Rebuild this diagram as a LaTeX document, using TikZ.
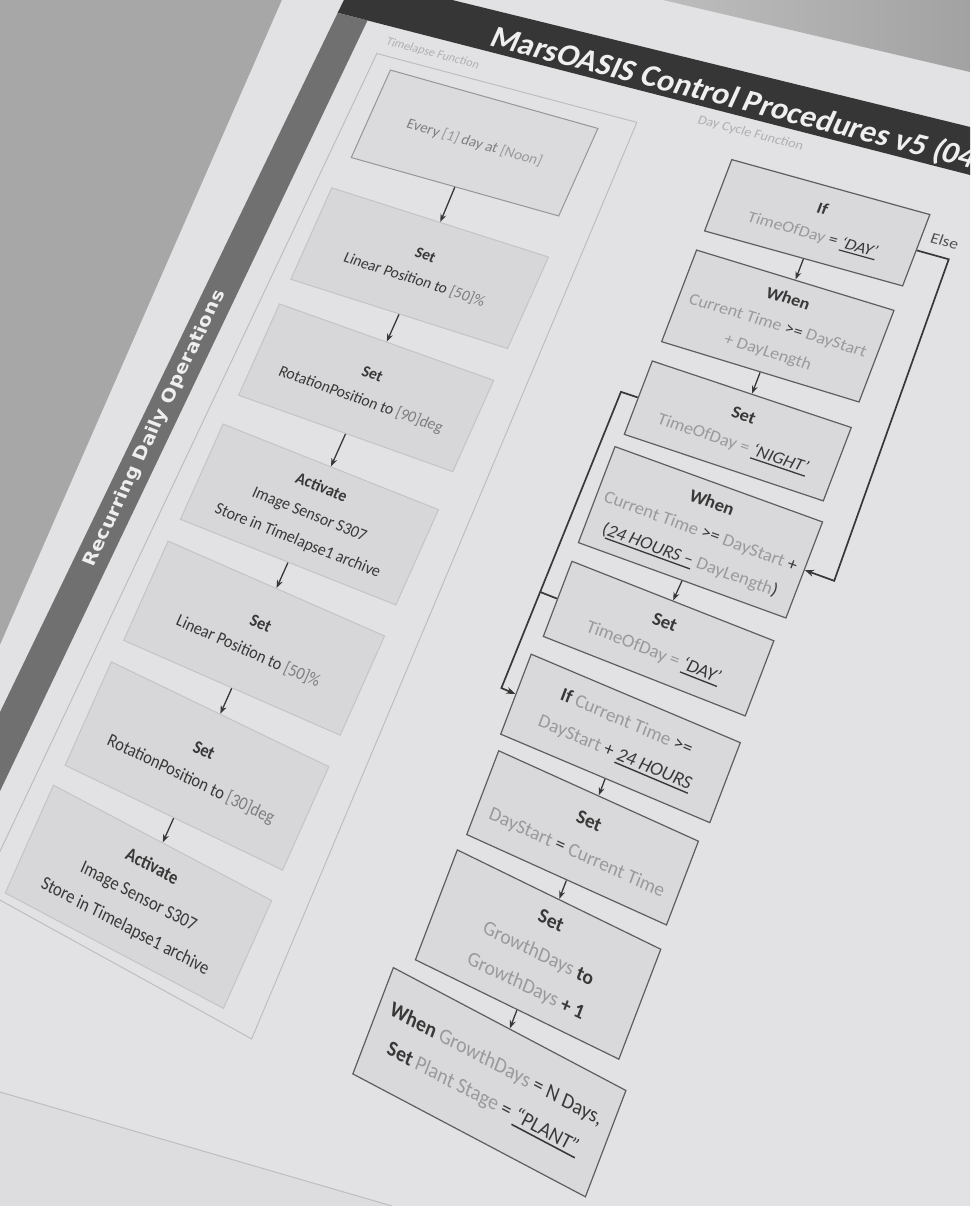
\documentclass[tikz,border=0pt]{standalone}
\usepackage{fontspec}
\setmainfont{Carlito}
\newfontfamily\bandfont{DejaVu Sans}
\usetikzlibrary{arrows.meta}

\definecolor{desk}{HTML}{A7A7A7}
\definecolor{deskhi}{HTML}{BDBDBD}
\definecolor{deskdk}{HTML}{A2A2A2}
\definecolor{paper}{HTML}{E2E2E4}
\definecolor{paperdk}{HTML}{DDDDDF}
\definecolor{titleband}{HTML}{363636}
\definecolor{sideband}{HTML}{707070}
\definecolor{frameline}{HTML}{BEBEC0}
\definecolor{lfill}{HTML}{D7D7D9}
\definecolor{lline}{HTML}{C4C4C6}
\definecolor{rfill}{HTML}{D9D9DB}
\definecolor{rline}{HTML}{5E5E5E}
\definecolor{ink}{HTML}{383838}
\definecolor{soft}{HTML}{9A9A9C}
\definecolor{mid}{HTML}{7E7E80}

% Sheet coordinates (u to the right, v downwards) -> photo coordinates,
% a plane perspective map; also gives the local linear part for nodes.
\newcommand\hmMap[2]{%
  \pgfmathsetmacro\hmW{1-(#1)/3925-(#2)/6183}%
  \pgfmathsetmacro\hmdX{(0.9625*(#1)-0.4079*(#2))/\hmW}%
  \pgfmathsetmacro\hmdY{(0.2713*(#1)+0.9130*(#2))/\hmW}%
  \pgfmathsetmacro\hmX{478+\hmdX}%
  \pgfmathsetmacro\hmY{-145-\hmdY}%
  \pgfmathsetmacro\hmA{(0.9625+\hmdX/3925)/\hmW}%
  \pgfmathsetmacro\hmB{-(0.2713+\hmdY/3925)/\hmW}%
  \pgfmathsetmacro\hmC{(0.4079-\hmdX/6183)/\hmW}%
  \pgfmathsetmacro\hmD{(0.9130+\hmdY/6183)/\hmW}%
}
\newcommand\hmCoord[3]{\hmMap{#2}{#3}\coordinate (#1) at (\hmX,\hmY);}
\newcommand\hmNode[5]{\hmMap{#3}{#4}%
  \node[cm={\hmA,\hmB,\hmC,\hmD,(0,0)},#1] (#2) at (\hmX,\hmY) {#5};}

\newcommand\sv[1]{\textcolor{soft}{#1}}
\newcommand\mv[1]{\textcolor{mid}{#1}}
\newsavebox\ulbox
\newcommand\uv[1]{\sbox\ulbox{\textit{#1}}%
  \rlap{\rule[-3.2pt]{\wd\ulbox}{1.1pt}}\usebox\ulbox}

\tikzset{
  lbox/.style={draw=lline, fill=lfill, line width=1pt, minimum width=220pt,
    minimum height=92pt, align=center, text=ink,
    font=\fontsize{15}{25.5}\selectfont},
  rbox/.style={draw=rline, fill=rfill, line width=1.2pt, minimum width=172pt,
    align=center, text=ink, font=\fontsize{15}{25.5}\selectfont},
  flow/.style={draw=ink, line width=1.3pt, -{Stealth[length=8pt,width=6pt]}},
  loopline/.style={draw=ink, line width=1.7pt, line join=miter},
  looparrow/.style={loopline, -{Stealth[length=9pt,width=7pt]}},
  tag/.style={anchor=west, inner sep=0pt, text=soft!70!paper,
    font=\fontsize{13}{15}\selectfont},
  sidetext/.style={rotate=90, inner sep=0pt, text=white!88!sideband,
    font=\bandfont\bfseries\fontsize{18.5}{20}\selectfont},
  titletext/.style={anchor=base west, inner sep=0pt, text=white!92!titleband,
    font=\bfseries\fontsize{33}{37}\selectfont},
  elsetag/.style={inner sep=0pt, text=ink!85!paper, font=\fontsize{14}{16}\selectfont},
}

\begin{document}
\begin{tikzpicture}[x=1pt,y=1pt]
\useasboundingbox (0,0) rectangle (970,-1206);
\begin{scope}
\clip (0,0) rectangle (970,-1206);

% desk and sheet
\fill[desk] (0,0) rectangle (970,-1206);
\fill[paper] (282,0) -- (970,0) -- (970,-1206) -- (0,-1206) -- (0,-645) -- cycle;
\shade[left color=deskhi, right color=deskdk] (663,0) -- (970,0) -- (970,-72) -- cycle;
% lower sheet edge showing at the bottom left
\fill[paperdk] (0,-1092) -- (392,-1206) -- (0,-1206) -- cycle;
\draw[frameline, line width=1pt] (0,-1092) -- (392,-1206);

% title band and side band
\hmCoord{tb1}{-196}{-140} \hmCoord{tb2}{700}{-140}
\hmCoord{tb3}{700}{-96}   \hmCoord{tb4}{-196}{-96}
\fill[titleband] (tb1) -- (tb2) -- (tb3) -- (tb4) -- cycle;
\hmCoord{sb1}{-196}{-96} \hmCoord{sb2}{-162}{-96}
\hmCoord{sb3}{-162}{1300} \hmCoord{sb4}{-196}{1300}
\fill[sideband] (sb1) -- (sb2) -- (sb3) -- (sb4) -- cycle;
\hmNode{sidetext}{sidelabel}{-179}{360}{Recurring Daily Operations}
\hmNode{titletext}{title}{-32}{-102}{MarsOASIS Control Procedures v5 (04}

% frame of the left procedure
\hmCoord{fa}{-137}{-64} \hmCoord{fb}{134}{-64}
\hmCoord{fc}{134}{782}  \hmCoord{fd}{-137}{782}
\draw[frameline, line width=1pt] (fa) -- (fb) -- (fc) -- (fd) -- cycle;
\hmNode{tag}{tlabel}{-133}{-79}{Timelapse Function}
\hmNode{tag}{dlabel}{186}{-82}{Day Cycle Function}

% left procedure
\hmNode{lbox, draw=ink!45!paper, fill=lfill!60!paper, minimum width=216pt, minimum height=96pt}{L1}{-4}{-1}
  {\mv{Every} \sv{[1]} \mv{day at} \sv{[Noon]}}
\hmNode{lbox, minimum width=224pt, minimum height=96pt}{L2}{-3}{133}
  {\textbf{Set}\\ Linear Position to \mv{[50]\%}}
\hmNode{lbox}{L3}{-3}{256}
  {\textbf{Set}\\ RotationPosition to \mv{[90]deg}}
\hmNode{lbox}{L4}{-3}{381}
  {\textbf{Activate}\\ Image Sensor S307\\ Store in Timelapse1 archive}
\hmNode{lbox}{L5}{-3}{498}
  {\textbf{Set}\\ Linear Position to \mv{[50]\%}}
\hmNode{lbox}{L6}{-3}{614}
  {\textbf{Set}\\ RotationPosition to \mv{[30]deg}}
\hmNode{lbox}{L7}{-3}{728}
  {\textbf{Activate}\\ Image Sensor S307\\ Store in Timelapse1 archive}

\draw[flow] (L1.south) -- (L2.north);
\draw[flow] (L2.south) -- (L3.north);
\draw[flow] (L3.south) -- (L4.north);
\draw[flow] (L4.south) -- (L5.north);
\draw[flow] (L5.south) -- (L6.north);
\draw[flow] (L6.south) -- (L7.north);

% day cycle procedure
\hmNode{rbox, minimum width=174pt, minimum height=71pt}{R1}{318}{-16}
  {\textbf{If}\\ \sv{TimeOfDay} = \uv{‘DAY’}}
\hmNode{rbox, minimum height=88pt}{R2}{318}{85}
  {\textbf{When}\\ \sv{Current Time} >= \sv{DayStart}\\ \sv{+ DayLength}}
\hmNode{rbox, minimum height=68pt}{R3}{318}{184}
  {\textbf{Set}\\ \sv{TimeOfDay =} \uv{‘NIGHT’}}
\hmNode{rbox, minimum width=178pt, minimum height=86pt}{R4}{319}{276}
  {\textbf{When}\\ \sv{Current Time} >= \sv{DayStart} +\\ (\uv{24 HOURS –} \sv{DayLength})}
\hmNode{rbox, minimum height=65pt}{R5}{318}{370}
  {\textbf{Set}\\ \sv{TimeOfDay =} \uv{‘DAY’}}
\hmNode{rbox, minimum width=177pt, minimum height=67pt}{R6}{318}{455}
  {\textbf{If} \sv{Current Time} >=\\ \sv{DayStart} + \uv{24 HOURS}}
\hmNode{rbox, minimum width=168pt, minimum height=68pt}{R7}{318}{537}
  {\textbf{Set}\\ \sv{DayStart} = \sv{Current Time}}
\hmNode{rbox, minimum width=170pt, minimum height=86pt}{R8}{318}{630}
  {\textbf{Set}\\ \sv{GrowthDays} \textbf{to}\\ \sv{GrowthDays} \textbf{+ 1}}
\hmNode{rbox, minimum width=193pt, minimum height=80pt}{R9}{318}{728}
  {\textbf{When} \sv{GrowthDays} = N Days,\\ \textbf{Set} \sv{Plant Stage} = \uv{“PLANT”}}

\draw[flow] (R1.south) -- (R2.north);
\draw[flow] (R2.south) -- (R3.north);
\draw[flow] (R4.south) -- (R5.north);
\draw[flow] (R6.south) -- (R7.north);
\draw[flow] (R7.south) -- (R8.north);
\draw[flow] (R8.south) -- (R9.north);

% else branch on the right
\hmCoord{ea}{430}{-16} \hmCoord{eb}{430}{276}
\draw[looparrow] (R1.east) -- (ea) -- (eb) -- (R4.east);
\hmNode{elsetag}{elselabel}{422}{-31}{Else}

% return path on the left
\hmCoord{la}{214}{184} \hmCoord{lb}{214}{455} \hmCoord{lj}{214}{370}
\draw[looparrow] (R3.west) -- (la) -- (lb) -- (R6.west);
\draw[loopline] (R5.west) -- (lj);
\end{scope}
\end{tikzpicture}
\end{document}
